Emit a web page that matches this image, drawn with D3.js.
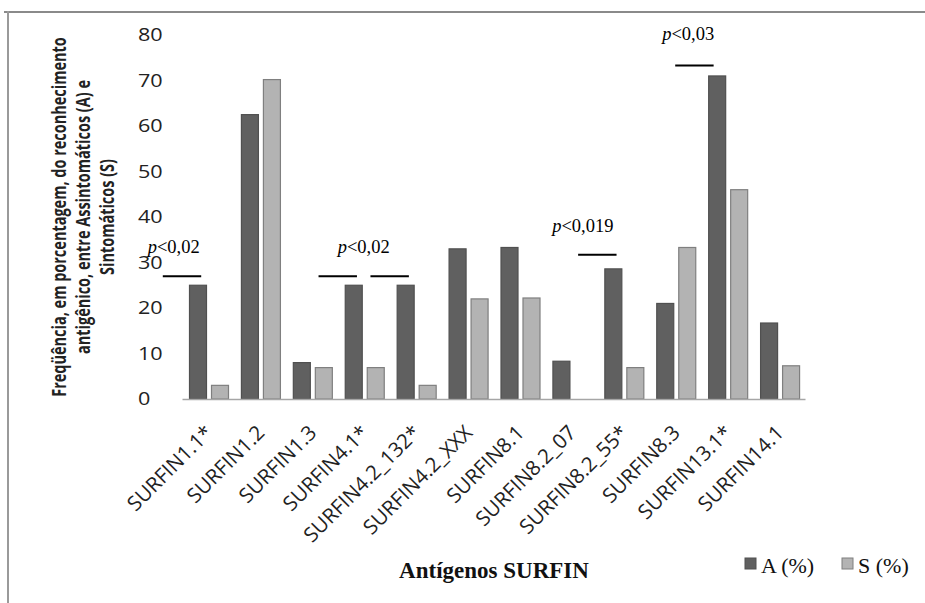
<!DOCTYPE html>
<html>
<head>
<meta charset="utf-8">
<script src="https://cdn.jsdelivr.net/npm/d3@7"></script>
<style>
  html, body { margin: 0; padding: 0; background: #ffffff; }
  svg { display: block; }
</style>
</head>
<body>
<svg id="chart" width="925" height="603"></svg>
<script>
// ---------- DATA ----------
const categories = ["SURFIN1.1*", "SURFIN1.2", "SURFIN1.3", "SURFIN4.1*", "SURFIN4.2_132*", "SURFIN4.2_XXX",
                    "SURFIN8.1", "SURFIN8.2_07", "SURFIN8.2_55*", "SURFIN8.3", "SURFIN13.1*", "SURFIN14.1"];
const seriesNames = ["A (%)", "S (%)"];
const valuesA = [25, 62.5, 8.0, 25, 25, 33, 33.3, 8.3, 28.6, 21, 71, 16.7];
const valuesS = [3, 70.2, 6.9, 6.9, 3, 22, 22.2, 0, 6.9, 33.3, 46, 7.3];
const yTicks = [0, 10, 20, 30, 40, 50, 60, 70, 80];
// significance annotations: line centre (in category units), line level, label
const sigLinePos = [0, 3, 4, 8, 9.87];
const sigLineLevel = [27, 27, 27, 31.7, 73.3];
const sigLabelText = ["<0,02", "<0,02", "<0,019", "<0,03"];
const sigLabelPos = [-0.16, 3.5, 7.72, 9.75];
const sigLabelLevel = [32.1, 32.1, 36.6, 78.9];
const yTitleLines = ["Freqüência, em porcentagem, do reconhecimento",
                     "antigênico, entre Assintomáticos (A) e",
                     "Sintomáticos (S)"];
const xTitle = "Antígenos SURFIN";

// ---------- LAYOUT ----------
const W = 925, H = 603;
const plot = { left: 182, right: 805, top: 35, bottom: 399 };
const colors = { "A (%)": "#606060", "S (%)": "#b3b3b3" };
const strokes = { "A (%)": "#505050", "S (%)": "#7f7f7f" };
const sansFont = "'Open Sans', sans-serif";
const serifFont = "'Liberation Serif', 'Times New Roman', serif";

const svg = d3.select("#chart");

// frame
svg.append("line").attr("x1", 4).attr("x2", W).attr("y1", 12).attr("y2", 12)
  .attr("stroke", "#8a8a8a").attr("stroke-width", 2);
svg.append("line").attr("x1", 8).attr("x2", 8).attr("y1", 11).attr("y2", H)
  .attr("stroke", "#9a9a9a").attr("stroke-width", 2);

const x = d3.scaleBand().domain(categories).range([plot.left, plot.right]).paddingInner(0).paddingOuter(0);
const xs = d3.scaleBand().domain(seriesNames).range([7, 47]).paddingInner(0.1818);
const y = d3.scaleLinear().domain([0, 80]).range([plot.bottom, plot.top]);
const catUnit = d3.scaleLinear().domain([0, categories.length]).range([plot.left, plot.right]);

// y tick labels (left aligned, no axis line)
const yAxis = d3.axisLeft(y).tickValues(yTicks).tickSize(0).tickPadding(0);
const yg = svg.append("g").call(yAxis);
yg.select(".domain").remove();
yg.selectAll(".tick").attr("transform", d => `translate(138,${y(d)})`);
yg.selectAll(".tick text").attr("text-anchor", "start").attr("x", 0).attr("dy", "0.36em")
  .attr("transform", "scale(1.2,1)")
  .attr("font-family", sansFont).attr("font-size", 18).attr("fill", "#222");

// bars
const rows = categories.map((c, i) => ({ cat: c, vals: [
  { s: seriesNames[0], v: valuesA[i] }, { s: seriesNames[1], v: valuesS[i] } ] }));
const groups = svg.append("g").selectAll("g").data(rows).join("g")
  .attr("transform", d => `translate(${x(d.cat)},0)`);
groups.selectAll("rect").data(d => d.vals.filter(e => e.v > 0)).join("rect")
  .attr("x", d => xs(d.s) + 0.5)
  .attr("width", xs.bandwidth() - 1)
  .attr("y", d => y(d.v))
  .attr("height", d => y(0) - y(d.v))
  .attr("fill", d => colors[d.s])
  .attr("stroke", d => strokes[d.s])
  .attr("stroke-width", 1.2);

// x axis baseline + rotated labels
const xAxis = d3.axisBottom(x).tickSize(0).tickPadding(0);
const xg = svg.append("g").attr("transform", `translate(0,${plot.bottom})`).call(xAxis);
xg.select(".domain").attr("stroke", "#a6a6a6").attr("stroke-width", 1.5);
xg.selectAll(".tick text")
  .attr("text-anchor", "end")
  .attr("font-family", sansFont).attr("font-size", 20.5).attr("fill", "#222")
  .attr("y", 0).attr("dy", 0)
  .attr("transform", `translate(6,35) rotate(-45)`);

// significance lines & labels
const halfLine = 0.37;
svg.append("g").selectAll("line").data(sigLinePos.map((p, i) => ({ p, l: sigLineLevel[i] }))).join("line")
  .attr("x1", d => catUnit(d.p - halfLine)).attr("x2", d => catUnit(d.p + halfLine))
  .attr("y1", d => y(d.l)).attr("y2", d => y(d.l))
  .attr("stroke", "#000").attr("stroke-width", 2);
const lab = svg.append("g").selectAll("text").data(sigLabelText.map((t, i) => ({ t, p: sigLabelPos[i], l: sigLabelLevel[i] }))).join("text")
  .attr("x", d => catUnit(d.p)).attr("y", d => y(d.l))
  .attr("text-anchor", "middle")
  .attr("font-family", serifFont).attr("font-size", 18.5).attr("fill", "#000");
lab.append("tspan").attr("font-style", "italic").text("p");
lab.append("tspan").text(d => d.t);

// y axis title (3 lines, glyphs widened like the reference)
const yt = svg.append("text")
  .attr("transform", `translate(0,${(plot.top + plot.bottom) / 2}) scale(1.3,1) rotate(-90)`)
  .attr("text-anchor", "middle")
  .attr("font-family", sansFont).attr("font-weight", "bold").attr("font-size", 14.5).attr("fill", "#222");
yt.selectAll("tspan").data(yTitleLines).join("tspan")
  .attr("x", 0).attr("y", (d, i) => 50.5 + i * 18.5).text(d => d);

// x axis title
svg.append("text").attr("x", 494).attr("y", 578).attr("text-anchor", "middle")
  .attr("font-family", serifFont).attr("font-weight", "bold")
  .attr("font-size", 23).attr("fill", "#111").text(xTitle);

// legend
const legX = [745, 842];
const leg = svg.append("g").selectAll("g").data(seriesNames).join("g")
  .attr("transform", (d, i) => `translate(${legX[i]},558)`);
leg.append("rect").attr("width", 11).attr("height", 11)
  .attr("fill", d => colors[d]).attr("stroke", d => strokes[d]).attr("stroke-width", 1);
leg.append("text").attr("x", 16).attr("y", 15)
  .attr("font-family", serifFont).attr("font-size", 22).attr("fill", "#111")
  .text(d => d);
</script>
</body>
</html>
